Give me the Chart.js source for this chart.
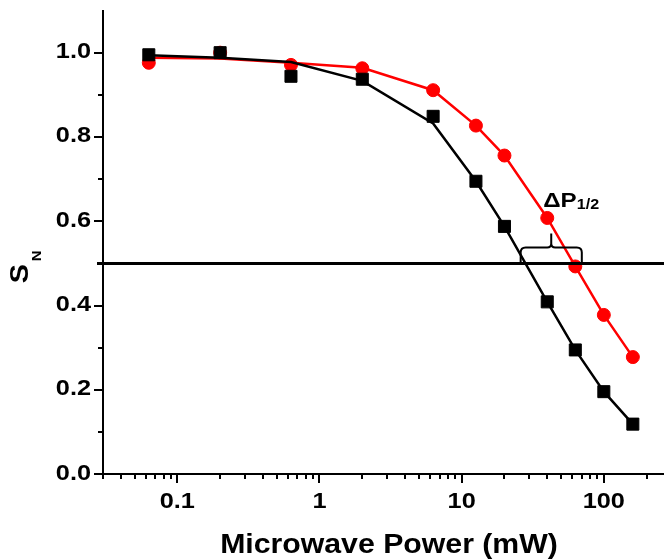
<!DOCTYPE html>
<html>
<head>
<meta charset="utf-8">
<script src="https://cdn.jsdelivr.net/npm/chart.js@4.4.0/dist/chart.umd.min.js"></script>
<style>
  html, body { margin: 0; padding: 0; background: #fff; }
  #grafico { display: block; }
</style>
</head>
<body>
<canvas id="grafico" width="664" height="560"></canvas>
<script>
// potencia de micro-ondas (mW) e sinal normalizado S_N
const potencias = [0.063, 0.2, 0.63, 2, 6.3, 12.6, 20, 40, 63, 100, 160];
const sinalPreto = [0.995, 1.0, 0.944, 0.937, 0.849, 0.695, 0.588, 0.409, 0.295, 0.196, 0.119];
const ajustePreto = [0.994, 0.988, 0.978, 0.933, 0.832, 0.695, 0.588, 0.409, 0.295, 0.196, 0.119];
const sinalVermelho = [0.976, 1.0, 0.971, 0.963, 0.911, 0.827, 0.756, 0.608, 0.493, 0.378, 0.278];
const ajusteVermelho = [0.988, 0.986, 0.976, 0.964, 0.911, 0.827, 0.756, 0.608, 0.493, 0.378, 0.278];

const ticksX = [0.1, 1, 10, 100];
const labelsX = ['0.1', '1', '10', '100'];
const ticksXMenores = [0.03, 0.04, 0.05, 0.06, 0.07, 0.08, 0.09,
    0.2, 0.3, 0.4, 0.5, 0.6, 0.7, 0.8, 0.9,
    2, 3, 4, 5, 6, 7, 8, 9,
    20, 30, 40, 50, 60, 70, 80, 90, 200];
const ticksY = [0, 0.2, 0.4, 0.6, 0.8, 1.0];
const labelsY = ['0.0', '0.2', '0.4', '0.6', '0.8', '1.0'];
const ticksYMenores = [0.1, 0.3, 0.5, 0.7, 0.9];

const nivelMetade = 0.5;
const deltaP = [26, 70]; // extremos da chave ΔP1/2

const fonte = '"Liberation Sans", Arial, sans-serif';
const esticar = 1.15;

const pontos = (valores) => potencias.map((p, i) => ({ x: p, y: valores[i] }));

function texto(ctx, str, x, y, tamanho, alinhar, sx) {
    ctx.save();
    ctx.translate(x, y);
    ctx.scale(sx || esticar, 1);
    ctx.font = `bold ${tamanho}px ${fonte}`;
    ctx.textAlign = alinhar;
    ctx.textBaseline = 'alphabetic';
    ctx.fillStyle = '#000';
    ctx.fillText(str, 0, 0);
    ctx.restore();
}

const eixosPlugin = {
    id: 'eixosPlugin',
    afterDraw(chart) {
        const ctx = chart.ctx;
        const sx = chart.scales.x;
        const sy = chart.scales.y;
        const area = chart.chartArea;
        const eixoX = Math.round(area.left);
        const eixoY = Math.round(area.bottom);

        ctx.save();
        ctx.strokeStyle = '#000';
        ctx.lineWidth = 2;

        // marcas do eixo x
        ctx.beginPath();
        ticksX.forEach(v => {
            const px = Math.round(sx.getPixelForValue(v));
            ctx.moveTo(px, eixoY);
            ctx.lineTo(px, eixoY + 9);
        });
        ticksXMenores.forEach(v => {
            const px = Math.round(sx.getPixelForValue(v));
            ctx.moveTo(px, eixoY);
            ctx.lineTo(px, eixoY + 5);
        });
        // marcas do eixo y
        ticksY.forEach(v => {
            const py = Math.round(sy.getPixelForValue(v));
            ctx.moveTo(eixoX, py);
            ctx.lineTo(eixoX - 9, py);
        });
        ticksYMenores.forEach(v => {
            const py = Math.round(sy.getPixelForValue(v));
            ctx.moveTo(eixoX, py);
            ctx.lineTo(eixoX - 5, py);
        });
        ctx.stroke();

        // linha de meia saturação
        const yMeio = sy.getPixelForValue(nivelMetade);
        ctx.lineWidth = 3;
        ctx.beginPath();
        ctx.moveTo(eixoX - 6, yMeio);
        ctx.lineTo(area.right, yMeio);
        ctx.stroke();

        // chave entre as duas curvas
        const xL = sx.getPixelForValue(deltaP[0]);
        const xR = sx.getPixelForValue(deltaP[1]);
        const xm = (xL + xR) / 2;
        const yTopo = yMeio - 16;
        const yPonta = yMeio - 30;
        ctx.lineWidth = 2;
        ctx.beginPath();
        ctx.moveTo(xL, yMeio);
        ctx.lineTo(xL, yTopo + 5);
        ctx.quadraticCurveTo(xL, yTopo, xL + 5, yTopo);
        ctx.lineTo(xm - 4, yTopo);
        ctx.quadraticCurveTo(xm, yTopo, xm, yTopo - 4);
        ctx.lineTo(xm, yPonta);
        ctx.moveTo(xm, yTopo - 4);
        ctx.quadraticCurveTo(xm, yTopo, xm + 4, yTopo);
        ctx.lineTo(xR - 5, yTopo);
        ctx.quadraticCurveTo(xR, yTopo, xR, yTopo + 5);
        ctx.lineTo(xR, yMeio);
        ctx.stroke();
        ctx.restore();

        // rótulo ΔP1/2
        ctx.save();
        ctx.font = `bold 21px ${fonte}`;
        const larguraDP = ctx.measureText('ΔP').width * esticar;
        ctx.restore();
        const xTexto = xm - 8;
        texto(ctx, 'ΔP', xTexto, yMeio - 56.5, 21, 'left');
        texto(ctx, '1/2', xTexto + larguraDP, yMeio - 54, 14, 'left');

        // rótulos dos eixos
        ticksX.forEach((v, i) => {
            texto(ctx, labelsX[i], sx.getPixelForValue(v), 508.3, 22, 'center');
        });
        ticksY.forEach((v, i) => {
            texto(ctx, labelsY[i], 91, sy.getPixelForValue(v) + 5.5, 22, 'right');
        });

        texto(ctx, 'Microwave Power (mW)', 389, 552.7, 27, 'center', 1.12);

        // título do eixo y: S com N subscrito
        ctx.save();
        ctx.translate(28.3, 282);
        ctx.rotate(-Math.PI / 2);
        ctx.scale(esticar, 1);
        ctx.fillStyle = '#000';
        ctx.textBaseline = 'alphabetic';
        ctx.textAlign = 'left';
        ctx.font = `bold 25px ${fonte}`;
        ctx.fillText('S', -1, 0);
        ctx.font = `bold 13px ${fonte}`;
        ctx.fillText('N', 18, 12.7);
        ctx.restore();
    }
};

const ctxGrafico = document.getElementById('grafico').getContext('2d');
new Chart(ctxGrafico, {
    type: 'scatter',
    data: {
        datasets: [
            {
                data: pontos(ajustePreto),
                showLine: true,
                borderColor: '#000',
                borderWidth: 2.5,
                pointRadius: 0,
                fill: false
            },
            {
                data: pontos(sinalPreto),
                showLine: false,
                pointStyle: 'rect',
                pointRadius: 8.5,
                backgroundColor: '#000',
                borderColor: '#000',
                borderWidth: 1
            },
            {
                data: pontos(ajusteVermelho),
                showLine: true,
                borderColor: '#ff0000',
                borderWidth: 2.5,
                pointRadius: 0,
                fill: false
            },
            {
                data: pontos(sinalVermelho),
                showLine: false,
                pointStyle: 'circle',
                pointRadius: 6.5,
                backgroundColor: '#ff0000',
                borderColor: '#ff0000',
                borderWidth: 1
            }
        ]
    },
    options: {
        responsive: false,
        animation: false,
        layout: {
            autoPadding: false,
            padding: { left: 103, top: 10.5, right: 0, bottom: 85.7 }
        },
        plugins: {
            legend: { display: false },
            tooltip: { enabled: false }
        },
        scales: {
            x: {
                type: 'logarithmic',
                min: 0.03,
                max: 265,
                grid: { display: false, drawTicks: false },
                border: { display: true, color: '#000', width: 2 },
                ticks: { display: false }
            },
            y: {
                type: 'linear',
                min: 0,
                max: 1.1,
                grid: { display: false, drawTicks: false },
                border: { display: true, color: '#000', width: 2 },
                ticks: { display: false }
            }
        }
    },
    plugins: [eixosPlugin]
});
</script>
</body>
</html>
